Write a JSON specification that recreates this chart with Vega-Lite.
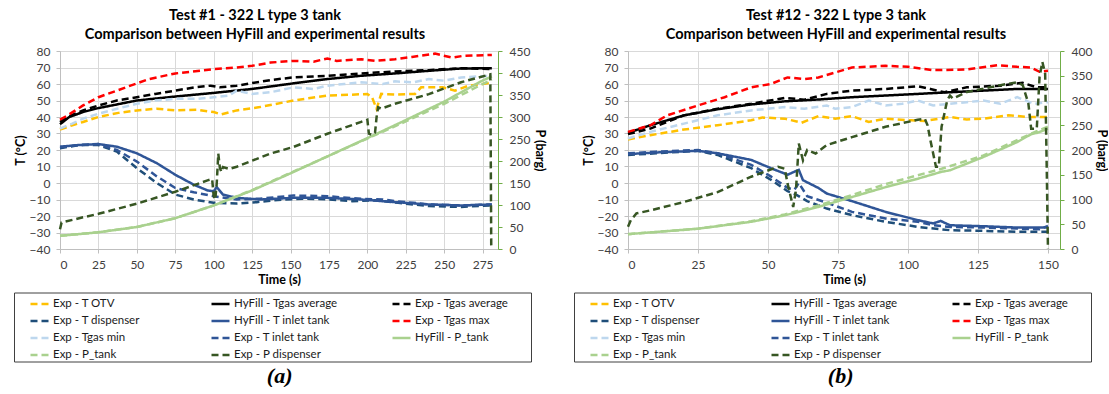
{
  "$schema": "https://vega.github.io/schema/vega-lite/v6.json",
  "padding": {"left": 13, "top": 7, "right": 0, "bottom": 0},
  "background": "white",
  "config": {
    "font": "Lato",
    "view": {"stroke": null},
    "axis": {"labelFont": "Lato", "labelFontSize": 12, "labelColor": "#404040", "titleFont": "Lato", "titleFontSize": 12.5, "titleFontWeight": "bold", "titleColor": "#000000", "gridColor": "#d9d9d9", "domainColor": "#bfbfbf", "tickColor": "#bfbfbf", "tickSize": 4, "labelPadding": 6},
    "title": {"font": "Lato", "fontSize": 14.5, "fontWeight": "bold", "color": "#000000", "lineHeight": 19, "offset": 3},
    "legend": {"direction": "horizontal", "columns": 3, "gridAlign": "all", "symbolType": "stroke", "symbolSize": 324, "symbolStrokeWidth": 2.5, "labelFont": "Lato", "labelFontSize": 11.5, "labelColor": "#1a1a1a", "labelOffset": 3, "symbolOffset": 14, "columnPadding": 39, "rowPadding": 1, "padding": 1, "strokeColor": "#404040", "titleOrient": "right", "titlePadding": 22, "titleFontSize": 11},
    "line": {"strokeWidth": 2.5}
  },
  "datasets": {
    "a": [
      {"s": "Exp - T OTV", "t": 0, "T": 32.4}, {"s": "Exp - T OTV", "t": 8, "T": 35}, {"s": "Exp - T OTV", "t": 15, "T": 37}, {"s": "Exp - T OTV", "t": 25, "T": 40}, {"s": "Exp - T OTV", "t": 38, "T": 42.5}, {"s": "Exp - T OTV", "t": 50, "T": 44}, {"s": "Exp - T OTV", "t": 63, "T": 45}, {"s": "Exp - T OTV", "t": 75, "T": 44}, {"s": "Exp - T OTV", "t": 89, "T": 44.4}, {"s": "Exp - T OTV", "t": 100, "T": 43}, {"s": "Exp - T OTV", "t": 105, "T": 41.6}, {"s": "Exp - T OTV", "t": 115, "T": 44}, {"s": "Exp - T OTV", "t": 130, "T": 46}, {"s": "Exp - T OTV", "t": 152, "T": 50}, {"s": "Exp - T OTV", "t": 174, "T": 53}, {"s": "Exp - T OTV", "t": 190, "T": 53.5}, {"s": "Exp - T OTV", "t": 200, "T": 54}, {"s": "Exp - T OTV", "t": 203, "T": 52}, {"s": "Exp - T OTV", "t": 206, "T": 45}, {"s": "Exp - T OTV", "t": 209, "T": 54}, {"s": "Exp - T OTV", "t": 218, "T": 53.6}, {"s": "Exp - T OTV", "t": 231, "T": 54}, {"s": "Exp - T OTV", "t": 235, "T": 58}, {"s": "Exp - T OTV", "t": 249, "T": 58}, {"s": "Exp - T OTV", "t": 257, "T": 56}, {"s": "Exp - T OTV", "t": 266, "T": 59}, {"s": "Exp - T OTV", "t": 275, "T": 60}, {"s": "Exp - T OTV", "t": 281, "T": 61},
      {"s": "HyFill - Tgas average", "t": 0, "T": 35.6}, {"s": "HyFill - Tgas average", "t": 6, "T": 40}, {"s": "HyFill - Tgas average", "t": 15, "T": 43}, {"s": "HyFill - Tgas average", "t": 25, "T": 45.4}, {"s": "HyFill - Tgas average", "t": 50, "T": 50}, {"s": "HyFill - Tgas average", "t": 75, "T": 52.4}, {"s": "HyFill - Tgas average", "t": 100, "T": 54.6}, {"s": "HyFill - Tgas average", "t": 125, "T": 57}, {"s": "HyFill - Tgas average", "t": 152, "T": 60.4}, {"s": "HyFill - Tgas average", "t": 174, "T": 63}, {"s": "HyFill - Tgas average", "t": 196, "T": 65}, {"s": "HyFill - Tgas average", "t": 218, "T": 66.4}, {"s": "HyFill - Tgas average", "t": 240, "T": 68}, {"s": "HyFill - Tgas average", "t": 261, "T": 69.4}, {"s": "HyFill - Tgas average", "t": 281, "T": 69.6},
      {"s": "Exp - Tgas average", "t": 0, "T": 37}, {"s": "Exp - Tgas average", "t": 5, "T": 40}, {"s": "Exp - Tgas average", "t": 15, "T": 44}, {"s": "Exp - Tgas average", "t": 25, "T": 47}, {"s": "Exp - Tgas average", "t": 37, "T": 50}, {"s": "Exp - Tgas average", "t": 50, "T": 52}, {"s": "Exp - Tgas average", "t": 62, "T": 54}, {"s": "Exp - Tgas average", "t": 75, "T": 56}, {"s": "Exp - Tgas average", "t": 88, "T": 58}, {"s": "Exp - Tgas average", "t": 98, "T": 59}, {"s": "Exp - Tgas average", "t": 104, "T": 58}, {"s": "Exp - Tgas average", "t": 115, "T": 59}, {"s": "Exp - Tgas average", "t": 137, "T": 62.4}, {"s": "Exp - Tgas average", "t": 152, "T": 64}, {"s": "Exp - Tgas average", "t": 174, "T": 65}, {"s": "Exp - Tgas average", "t": 196, "T": 66.4}, {"s": "Exp - Tgas average", "t": 218, "T": 67.6}, {"s": "Exp - Tgas average", "t": 240, "T": 68.4}, {"s": "Exp - Tgas average", "t": 261, "T": 69.6}, {"s": "Exp - Tgas average", "t": 281, "T": 69},
      {"s": "Exp - T dispenser", "t": 0, "T": 21}, {"s": "Exp - T dispenser", "t": 12, "T": 23}, {"s": "Exp - T dispenser", "t": 25, "T": 23}, {"s": "Exp - T dispenser", "t": 37, "T": 19}, {"s": "Exp - T dispenser", "t": 50, "T": 9}, {"s": "Exp - T dispenser", "t": 63, "T": 0}, {"s": "Exp - T dispenser", "t": 75, "T": -7}, {"s": "Exp - T dispenser", "t": 87, "T": -10}, {"s": "Exp - T dispenser", "t": 100, "T": -12}, {"s": "Exp - T dispenser", "t": 115, "T": -12.4}, {"s": "Exp - T dispenser", "t": 128, "T": -11.6}, {"s": "Exp - T dispenser", "t": 145, "T": -10}, {"s": "Exp - T dispenser", "t": 160, "T": -9.5}, {"s": "Exp - T dispenser", "t": 175, "T": -10}, {"s": "Exp - T dispenser", "t": 190, "T": -11}, {"s": "Exp - T dispenser", "t": 205, "T": -10.5}, {"s": "Exp - T dispenser", "t": 220, "T": -12}, {"s": "Exp - T dispenser", "t": 240, "T": -14}, {"s": "Exp - T dispenser", "t": 261, "T": -14.5}, {"s": "Exp - T dispenser", "t": 281, "T": -13.5},
      {"s": "HyFill - T inlet tank", "t": 0, "T": 22}, {"s": "HyFill - T inlet tank", "t": 12, "T": 23}, {"s": "HyFill - T inlet tank", "t": 25, "T": 23.6}, {"s": "HyFill - T inlet tank", "t": 37, "T": 22}, {"s": "HyFill - T inlet tank", "t": 50, "T": 18}, {"s": "HyFill - T inlet tank", "t": 63, "T": 12}, {"s": "HyFill - T inlet tank", "t": 75, "T": 5}, {"s": "HyFill - T inlet tank", "t": 87, "T": -1}, {"s": "HyFill - T inlet tank", "t": 96, "T": -4.5}, {"s": "HyFill - T inlet tank", "t": 100, "T": -5}, {"s": "HyFill - T inlet tank", "t": 102, "T": -2.5}, {"s": "HyFill - T inlet tank", "t": 106, "T": -7}, {"s": "HyFill - T inlet tank", "t": 115, "T": -9}, {"s": "HyFill - T inlet tank", "t": 130, "T": -10}, {"s": "HyFill - T inlet tank", "t": 152, "T": -9}, {"s": "HyFill - T inlet tank", "t": 174, "T": -9}, {"s": "HyFill - T inlet tank", "t": 196, "T": -10}, {"s": "HyFill - T inlet tank", "t": 218, "T": -11.6}, {"s": "HyFill - T inlet tank", "t": 240, "T": -13}, {"s": "HyFill - T inlet tank", "t": 261, "T": -13.6}, {"s": "HyFill - T inlet tank", "t": 281, "T": -13},
      {"s": "Exp - Tgas max", "t": 0, "T": 38.4}, {"s": "Exp - Tgas max", "t": 5, "T": 41}, {"s": "Exp - Tgas max", "t": 15, "T": 47}, {"s": "Exp - Tgas max", "t": 25, "T": 52}, {"s": "Exp - Tgas max", "t": 37, "T": 56}, {"s": "Exp - Tgas max", "t": 50, "T": 60.4}, {"s": "Exp - Tgas max", "t": 58, "T": 63}, {"s": "Exp - Tgas max", "t": 75, "T": 66.4}, {"s": "Exp - Tgas max", "t": 100, "T": 69}, {"s": "Exp - Tgas max", "t": 115, "T": 70}, {"s": "Exp - Tgas max", "t": 125, "T": 71}, {"s": "Exp - Tgas max", "t": 137, "T": 73}, {"s": "Exp - Tgas max", "t": 152, "T": 74}, {"s": "Exp - Tgas max", "t": 165, "T": 73.5}, {"s": "Exp - Tgas max", "t": 174, "T": 75.5}, {"s": "Exp - Tgas max", "t": 180, "T": 74}, {"s": "Exp - Tgas max", "t": 196, "T": 75}, {"s": "Exp - Tgas max", "t": 205, "T": 74}, {"s": "Exp - Tgas max", "t": 218, "T": 75}, {"s": "Exp - Tgas max", "t": 229, "T": 76.4}, {"s": "Exp - Tgas max", "t": 244, "T": 78.4}, {"s": "Exp - Tgas max", "t": 255, "T": 76}, {"s": "Exp - Tgas max", "t": 262, "T": 77}, {"s": "Exp - Tgas max", "t": 281, "T": 77.6},
      {"s": "Exp - Tgas min", "t": 0, "T": 33}, {"s": "Exp - Tgas min", "t": 8, "T": 36}, {"s": "Exp - Tgas min", "t": 15, "T": 39}, {"s": "Exp - Tgas min", "t": 25, "T": 42}, {"s": "Exp - Tgas min", "t": 37, "T": 45}, {"s": "Exp - Tgas min", "t": 50, "T": 48}, {"s": "Exp - Tgas min", "t": 62, "T": 50}, {"s": "Exp - Tgas min", "t": 75, "T": 51}, {"s": "Exp - Tgas min", "t": 90, "T": 51}, {"s": "Exp - Tgas min", "t": 100, "T": 52}, {"s": "Exp - Tgas min", "t": 110, "T": 53}, {"s": "Exp - Tgas min", "t": 115, "T": 56}, {"s": "Exp - Tgas min", "t": 125, "T": 54}, {"s": "Exp - Tgas min", "t": 137, "T": 55}, {"s": "Exp - Tgas min", "t": 152, "T": 58}, {"s": "Exp - Tgas min", "t": 165, "T": 57}, {"s": "Exp - Tgas min", "t": 174, "T": 59}, {"s": "Exp - Tgas min", "t": 185, "T": 60}, {"s": "Exp - Tgas min", "t": 196, "T": 61}, {"s": "Exp - Tgas min", "t": 210, "T": 60}, {"s": "Exp - Tgas min", "t": 218, "T": 61.6}, {"s": "Exp - Tgas min", "t": 230, "T": 61}, {"s": "Exp - Tgas min", "t": 240, "T": 63}, {"s": "Exp - Tgas min", "t": 250, "T": 62}, {"s": "Exp - Tgas min", "t": 261, "T": 64}, {"s": "Exp - Tgas min", "t": 281, "T": 65},
      {"s": "Exp - T inlet tank", "t": 0, "T": 21.6}, {"s": "Exp - T inlet tank", "t": 12, "T": 23}, {"s": "Exp - T inlet tank", "t": 25, "T": 23.6}, {"s": "Exp - T inlet tank", "t": 37, "T": 20}, {"s": "Exp - T inlet tank", "t": 50, "T": 13}, {"s": "Exp - T inlet tank", "t": 63, "T": 4}, {"s": "Exp - T inlet tank", "t": 75, "T": -3}, {"s": "Exp - T inlet tank", "t": 87, "T": -5.6}, {"s": "Exp - T inlet tank", "t": 100, "T": -8}, {"s": "Exp - T inlet tank", "t": 115, "T": -10}, {"s": "Exp - T inlet tank", "t": 130, "T": -9.5}, {"s": "Exp - T inlet tank", "t": 152, "T": -7.6}, {"s": "Exp - T inlet tank", "t": 174, "T": -8}, {"s": "Exp - T inlet tank", "t": 196, "T": -9.6}, {"s": "Exp - T inlet tank", "t": 210, "T": -10}, {"s": "Exp - T inlet tank", "t": 218, "T": -11}, {"s": "Exp - T inlet tank", "t": 230, "T": -12}, {"s": "Exp - T inlet tank", "t": 240, "T": -13}, {"s": "Exp - T inlet tank", "t": 261, "T": -13.6}, {"s": "Exp - T inlet tank", "t": 281, "T": -13},
      {"s": "HyFill - P_tank", "t": 0, "P": 30}, {"s": "HyFill - P_tank", "t": 25, "P": 38}, {"s": "HyFill - P_tank", "t": 50, "P": 50}, {"s": "HyFill - P_tank", "t": 75, "P": 70}, {"s": "HyFill - P_tank", "t": 100, "P": 99}, {"s": "HyFill - P_tank", "t": 125, "P": 133}, {"s": "HyFill - P_tank", "t": 150, "P": 172}, {"s": "HyFill - P_tank", "t": 175, "P": 212}, {"s": "HyFill - P_tank", "t": 200, "P": 252}, {"s": "HyFill - P_tank", "t": 225, "P": 293}, {"s": "HyFill - P_tank", "t": 250, "P": 335}, {"s": "HyFill - P_tank", "t": 275, "P": 383}, {"s": "HyFill - P_tank", "t": 281, "P": 392},
      {"s": "Exp - P_tank", "t": 0, "P": 30}, {"s": "Exp - P_tank", "t": 25, "P": 38}, {"s": "Exp - P_tank", "t": 50, "P": 50}, {"s": "Exp - P_tank", "t": 75, "P": 70}, {"s": "Exp - P_tank", "t": 100, "P": 99}, {"s": "Exp - P_tank", "t": 125, "P": 134}, {"s": "Exp - P_tank", "t": 150, "P": 173}, {"s": "Exp - P_tank", "t": 175, "P": 212}, {"s": "Exp - P_tank", "t": 200, "P": 251}, {"s": "Exp - P_tank", "t": 225, "P": 290}, {"s": "Exp - P_tank", "t": 250, "P": 330}, {"s": "Exp - P_tank", "t": 275, "P": 375}, {"s": "Exp - P_tank", "t": 281, "P": 385},
      {"s": "Exp - P dispenser", "t": 0, "P": 45}, {"s": "Exp - P dispenser", "t": 1, "P": 60}, {"s": "Exp - P dispenser", "t": 3, "P": 62}, {"s": "Exp - P dispenser", "t": 15, "P": 72}, {"s": "Exp - P dispenser", "t": 25, "P": 80}, {"s": "Exp - P dispenser", "t": 50, "P": 103}, {"s": "Exp - P dispenser", "t": 75, "P": 130}, {"s": "Exp - P dispenser", "t": 96, "P": 156}, {"s": "Exp - P dispenser", "t": 99, "P": 159}, {"s": "Exp - P dispenser", "t": 100, "P": 120}, {"s": "Exp - P dispenser", "t": 101, "P": 112}, {"s": "Exp - P dispenser", "t": 102, "P": 150}, {"s": "Exp - P dispenser", "t": 103, "P": 217}, {"s": "Exp - P dispenser", "t": 104, "P": 185}, {"s": "Exp - P dispenser", "t": 105, "P": 175}, {"s": "Exp - P dispenser", "t": 106, "P": 186}, {"s": "Exp - P dispenser", "t": 110, "P": 182}, {"s": "Exp - P dispenser", "t": 115, "P": 187}, {"s": "Exp - P dispenser", "t": 137, "P": 217}, {"s": "Exp - P dispenser", "t": 152, "P": 232}, {"s": "Exp - P dispenser", "t": 174, "P": 262}, {"s": "Exp - P dispenser", "t": 196, "P": 289}, {"s": "Exp - P dispenser", "t": 200, "P": 294}, {"s": "Exp - P dispenser", "t": 201, "P": 262}, {"s": "Exp - P dispenser", "t": 203, "P": 259}, {"s": "Exp - P dispenser", "t": 205, "P": 265}, {"s": "Exp - P dispenser", "t": 206, "P": 300}, {"s": "Exp - P dispenser", "t": 207, "P": 322}, {"s": "Exp - P dispenser", "t": 209, "P": 319}, {"s": "Exp - P dispenser", "t": 218, "P": 330}, {"s": "Exp - P dispenser", "t": 240, "P": 352}, {"s": "Exp - P dispenser", "t": 261, "P": 379}, {"s": "Exp - P dispenser", "t": 280, "P": 397}, {"s": "Exp - P dispenser", "t": 280.6, "P": 5}, {"s": "Exp - P dispenser", "t": 281, "P": 0}
    ],
    "b": [
      {"s": "Exp - T OTV", "t": 0, "T": 26.4}, {"s": "Exp - T OTV", "t": 8, "T": 29}, {"s": "Exp - T OTV", "t": 20, "T": 32.4}, {"s": "Exp - T OTV", "t": 32, "T": 35}, {"s": "Exp - T OTV", "t": 44, "T": 38}, {"s": "Exp - T OTV", "t": 48, "T": 39.7}, {"s": "Exp - T OTV", "t": 56, "T": 39}, {"s": "Exp - T OTV", "t": 62, "T": 36.5}, {"s": "Exp - T OTV", "t": 68, "T": 40.5}, {"s": "Exp - T OTV", "t": 74, "T": 39}, {"s": "Exp - T OTV", "t": 80, "T": 40.5}, {"s": "Exp - T OTV", "t": 86, "T": 37}, {"s": "Exp - T OTV", "t": 92, "T": 39}, {"s": "Exp - T OTV", "t": 101, "T": 38}, {"s": "Exp - T OTV", "t": 106, "T": 37.6}, {"s": "Exp - T OTV", "t": 115, "T": 40}, {"s": "Exp - T OTV", "t": 121, "T": 38.5}, {"s": "Exp - T OTV", "t": 127, "T": 39}, {"s": "Exp - T OTV", "t": 136, "T": 41}, {"s": "Exp - T OTV", "t": 143, "T": 40}, {"s": "Exp - T OTV", "t": 150, "T": 40},
      {"s": "HyFill - Tgas average", "t": 0, "T": 30.4}, {"s": "HyFill - Tgas average", "t": 8, "T": 35}, {"s": "HyFill - Tgas average", "t": 20, "T": 41}, {"s": "HyFill - Tgas average", "t": 32, "T": 44.7}, {"s": "HyFill - Tgas average", "t": 44, "T": 47.6}, {"s": "HyFill - Tgas average", "t": 56, "T": 49.5}, {"s": "HyFill - Tgas average", "t": 68, "T": 50.6}, {"s": "HyFill - Tgas average", "t": 80, "T": 52}, {"s": "HyFill - Tgas average", "t": 92, "T": 53}, {"s": "HyFill - Tgas average", "t": 103.5, "T": 54}, {"s": "HyFill - Tgas average", "t": 115, "T": 55}, {"s": "HyFill - Tgas average", "t": 127, "T": 56}, {"s": "HyFill - Tgas average", "t": 139, "T": 57}, {"s": "HyFill - Tgas average", "t": 150, "T": 57},
      {"s": "Exp - Tgas average", "t": 0, "T": 29.6}, {"s": "Exp - Tgas average", "t": 8, "T": 33}, {"s": "Exp - Tgas average", "t": 20, "T": 41}, {"s": "Exp - Tgas average", "t": 32, "T": 45}, {"s": "Exp - Tgas average", "t": 44, "T": 48}, {"s": "Exp - Tgas average", "t": 56, "T": 51.6}, {"s": "Exp - Tgas average", "t": 63, "T": 50.5}, {"s": "Exp - Tgas average", "t": 71, "T": 54}, {"s": "Exp - Tgas average", "t": 80, "T": 56}, {"s": "Exp - Tgas average", "t": 92, "T": 57}, {"s": "Exp - Tgas average", "t": 103.5, "T": 58.6}, {"s": "Exp - Tgas average", "t": 108, "T": 57}, {"s": "Exp - Tgas average", "t": 113, "T": 55}, {"s": "Exp - Tgas average", "t": 121, "T": 58}, {"s": "Exp - Tgas average", "t": 133, "T": 59}, {"s": "Exp - Tgas average", "t": 141, "T": 60.7}, {"s": "Exp - Tgas average", "t": 146, "T": 58}, {"s": "Exp - Tgas average", "t": 150, "T": 58},
      {"s": "Exp - T dispenser", "t": 0, "T": 17}, {"s": "Exp - T dispenser", "t": 10, "T": 18}, {"s": "Exp - T dispenser", "t": 25, "T": 19.5}, {"s": "Exp - T dispenser", "t": 32, "T": 17}, {"s": "Exp - T dispenser", "t": 44, "T": 9}, {"s": "Exp - T dispenser", "t": 51, "T": 2}, {"s": "Exp - T dispenser", "t": 57, "T": -5}, {"s": "Exp - T dispenser", "t": 60, "T": -7}, {"s": "Exp - T dispenser", "t": 64, "T": -11}, {"s": "Exp - T dispenser", "t": 71, "T": -15.5}, {"s": "Exp - T dispenser", "t": 80, "T": -19.5}, {"s": "Exp - T dispenser", "t": 92, "T": -23.5}, {"s": "Exp - T dispenser", "t": 103.5, "T": -26.6}, {"s": "Exp - T dispenser", "t": 115, "T": -28.6}, {"s": "Exp - T dispenser", "t": 127, "T": -29}, {"s": "Exp - T dispenser", "t": 139, "T": -29.6}, {"s": "Exp - T dispenser", "t": 150, "T": -29.6},
      {"s": "HyFill - T inlet tank", "t": 0, "T": 17.5}, {"s": "HyFill - T inlet tank", "t": 10, "T": 18.5}, {"s": "HyFill - T inlet tank", "t": 25, "T": 19.5}, {"s": "HyFill - T inlet tank", "t": 32, "T": 18}, {"s": "HyFill - T inlet tank", "t": 44, "T": 14}, {"s": "HyFill - T inlet tank", "t": 51, "T": 9}, {"s": "HyFill - T inlet tank", "t": 57, "T": 5}, {"s": "HyFill - T inlet tank", "t": 61, "T": 8}, {"s": "HyFill - T inlet tank", "t": 62.5, "T": 1.7}, {"s": "HyFill - T inlet tank", "t": 68, "T": -3}, {"s": "HyFill - T inlet tank", "t": 71, "T": -6.4}, {"s": "HyFill - T inlet tank", "t": 80, "T": -11}, {"s": "HyFill - T inlet tank", "t": 92, "T": -17.5}, {"s": "HyFill - T inlet tank", "t": 103.5, "T": -22.5}, {"s": "HyFill - T inlet tank", "t": 109, "T": -24.5}, {"s": "HyFill - T inlet tank", "t": 111.7, "T": -23}, {"s": "HyFill - T inlet tank", "t": 115, "T": -25.6}, {"s": "HyFill - T inlet tank", "t": 127, "T": -26.2}, {"s": "HyFill - T inlet tank", "t": 139, "T": -27}, {"s": "HyFill - T inlet tank", "t": 150, "T": -27},
      {"s": "Exp - Tgas max", "t": 0, "T": 31}, {"s": "Exp - Tgas max", "t": 8, "T": 35}, {"s": "Exp - Tgas max", "t": 14, "T": 41}, {"s": "Exp - Tgas max", "t": 25, "T": 47}, {"s": "Exp - Tgas max", "t": 34.5, "T": 52}, {"s": "Exp - Tgas max", "t": 44, "T": 58}, {"s": "Exp - Tgas max", "t": 51, "T": 60}, {"s": "Exp - Tgas max", "t": 57, "T": 64}, {"s": "Exp - Tgas max", "t": 63, "T": 63}, {"s": "Exp - Tgas max", "t": 68, "T": 64}, {"s": "Exp - Tgas max", "t": 80, "T": 70}, {"s": "Exp - Tgas max", "t": 92, "T": 71}, {"s": "Exp - Tgas max", "t": 100, "T": 70.4}, {"s": "Exp - Tgas max", "t": 109, "T": 68.4}, {"s": "Exp - Tgas max", "t": 121, "T": 68.8}, {"s": "Exp - Tgas max", "t": 132, "T": 71.4}, {"s": "Exp - Tgas max", "t": 139, "T": 70.4}, {"s": "Exp - Tgas max", "t": 144, "T": 70}, {"s": "Exp - Tgas max", "t": 147, "T": 67.4}, {"s": "Exp - Tgas max", "t": 150, "T": 68},
      {"s": "Exp - Tgas min", "t": 0, "T": 27}, {"s": "Exp - Tgas min", "t": 8, "T": 31}, {"s": "Exp - Tgas min", "t": 20, "T": 36}, {"s": "Exp - Tgas min", "t": 32, "T": 41}, {"s": "Exp - Tgas min", "t": 44, "T": 44}, {"s": "Exp - Tgas min", "t": 56, "T": 46}, {"s": "Exp - Tgas min", "t": 63, "T": 45}, {"s": "Exp - Tgas min", "t": 71, "T": 47}, {"s": "Exp - Tgas min", "t": 74, "T": 45}, {"s": "Exp - Tgas min", "t": 80, "T": 46}, {"s": "Exp - Tgas min", "t": 86, "T": 50}, {"s": "Exp - Tgas min", "t": 92, "T": 47}, {"s": "Exp - Tgas min", "t": 98, "T": 48}, {"s": "Exp - Tgas min", "t": 103.5, "T": 50}, {"s": "Exp - Tgas min", "t": 109, "T": 47}, {"s": "Exp - Tgas min", "t": 115, "T": 48}, {"s": "Exp - Tgas min", "t": 121, "T": 49}, {"s": "Exp - Tgas min", "t": 127, "T": 50}, {"s": "Exp - Tgas min", "t": 133, "T": 48}, {"s": "Exp - Tgas min", "t": 139, "T": 52}, {"s": "Exp - Tgas min", "t": 145, "T": 48}, {"s": "Exp - Tgas min", "t": 150, "T": 49},
      {"s": "Exp - T inlet tank", "t": 0, "T": 18}, {"s": "Exp - T inlet tank", "t": 10, "T": 19}, {"s": "Exp - T inlet tank", "t": 25, "T": 20}, {"s": "Exp - T inlet tank", "t": 32, "T": 18}, {"s": "Exp - T inlet tank", "t": 44, "T": 11}, {"s": "Exp - T inlet tank", "t": 51, "T": 4}, {"s": "Exp - T inlet tank", "t": 57, "T": -3}, {"s": "Exp - T inlet tank", "t": 59.5, "T": -4}, {"s": "Exp - T inlet tank", "t": 61, "T": 0}, {"s": "Exp - T inlet tank", "t": 64, "T": -8}, {"s": "Exp - T inlet tank", "t": 71, "T": -12}, {"s": "Exp - T inlet tank", "t": 80, "T": -17.5}, {"s": "Exp - T inlet tank", "t": 92, "T": -21.5}, {"s": "Exp - T inlet tank", "t": 103.5, "T": -23.5}, {"s": "Exp - T inlet tank", "t": 109, "T": -25.6}, {"s": "Exp - T inlet tank", "t": 115, "T": -26.6}, {"s": "Exp - T inlet tank", "t": 127, "T": -27}, {"s": "Exp - T inlet tank", "t": 139, "T": -27.6}, {"s": "Exp - T inlet tank", "t": 147, "T": -28}, {"s": "Exp - T inlet tank", "t": 150, "T": -26},
      {"s": "HyFill - P_tank", "t": 0, "P": 30}, {"s": "HyFill - P_tank", "t": 25, "P": 41}, {"s": "HyFill - P_tank", "t": 44, "P": 55}, {"s": "HyFill - P_tank", "t": 56, "P": 68}, {"s": "HyFill - P_tank", "t": 68, "P": 85}, {"s": "HyFill - P_tank", "t": 80, "P": 105}, {"s": "HyFill - P_tank", "t": 92, "P": 125}, {"s": "HyFill - P_tank", "t": 103.5, "P": 142}, {"s": "HyFill - P_tank", "t": 112, "P": 156}, {"s": "HyFill - P_tank", "t": 115, "P": 159}, {"s": "HyFill - P_tank", "t": 127, "P": 186}, {"s": "HyFill - P_tank", "t": 139, "P": 216}, {"s": "HyFill - P_tank", "t": 144, "P": 232}, {"s": "HyFill - P_tank", "t": 146.4, "P": 235}, {"s": "HyFill - P_tank", "t": 150, "P": 243},
      {"s": "Exp - P_tank", "t": 0, "P": 30}, {"s": "Exp - P_tank", "t": 25, "P": 41}, {"s": "Exp - P_tank", "t": 44, "P": 56}, {"s": "Exp - P_tank", "t": 56, "P": 70}, {"s": "Exp - P_tank", "t": 68, "P": 88}, {"s": "Exp - P_tank", "t": 80, "P": 109}, {"s": "Exp - P_tank", "t": 92, "P": 131}, {"s": "Exp - P_tank", "t": 103.5, "P": 149}, {"s": "Exp - P_tank", "t": 112, "P": 162}, {"s": "Exp - P_tank", "t": 127, "P": 189}, {"s": "Exp - P_tank", "t": 139, "P": 220}, {"s": "Exp - P_tank", "t": 146, "P": 238}, {"s": "Exp - P_tank", "t": 150, "P": 247},
      {"s": "Exp - P dispenser", "t": 0, "P": 45}, {"s": "Exp - P dispenser", "t": 1, "P": 58}, {"s": "Exp - P dispenser", "t": 3, "P": 72}, {"s": "Exp - P dispenser", "t": 8, "P": 78}, {"s": "Exp - P dispenser", "t": 20, "P": 95}, {"s": "Exp - P dispenser", "t": 32, "P": 115}, {"s": "Exp - P dispenser", "t": 44, "P": 146}, {"s": "Exp - P dispenser", "t": 53.6, "P": 166}, {"s": "Exp - P dispenser", "t": 56, "P": 162}, {"s": "Exp - P dispenser", "t": 57, "P": 132}, {"s": "Exp - P dispenser", "t": 59, "P": 85}, {"s": "Exp - P dispenser", "t": 60, "P": 119}, {"s": "Exp - P dispenser", "t": 61, "P": 213}, {"s": "Exp - P dispenser", "t": 62.5, "P": 179}, {"s": "Exp - P dispenser", "t": 64, "P": 200}, {"s": "Exp - P dispenser", "t": 67, "P": 193}, {"s": "Exp - P dispenser", "t": 71, "P": 210}, {"s": "Exp - P dispenser", "t": 80, "P": 226}, {"s": "Exp - P dispenser", "t": 92, "P": 247}, {"s": "Exp - P dispenser", "t": 103.5, "P": 261}, {"s": "Exp - P dispenser", "t": 106, "P": 263}, {"s": "Exp - P dispenser", "t": 107, "P": 250}, {"s": "Exp - P dispenser", "t": 108, "P": 220}, {"s": "Exp - P dispenser", "t": 109, "P": 193}, {"s": "Exp - P dispenser", "t": 110, "P": 166}, {"s": "Exp - P dispenser", "t": 111, "P": 166}, {"s": "Exp - P dispenser", "t": 112, "P": 247}, {"s": "Exp - P dispenser", "t": 114, "P": 300}, {"s": "Exp - P dispenser", "t": 115, "P": 310}, {"s": "Exp - P dispenser", "t": 116, "P": 304}, {"s": "Exp - P dispenser", "t": 121, "P": 317}, {"s": "Exp - P dispenser", "t": 133, "P": 331}, {"s": "Exp - P dispenser", "t": 139, "P": 337}, {"s": "Exp - P dispenser", "t": 141, "P": 331}, {"s": "Exp - P dispenser", "t": 143, "P": 294}, {"s": "Exp - P dispenser", "t": 144, "P": 243}, {"s": "Exp - P dispenser", "t": 146, "P": 243}, {"s": "Exp - P dispenser", "t": 147, "P": 348}, {"s": "Exp - P dispenser", "t": 148, "P": 378}, {"s": "Exp - P dispenser", "t": 149, "P": 354}, {"s": "Exp - P dispenser", "t": 149.6, "P": 150}, {"s": "Exp - P dispenser", "t": 150, "P": 0}
    ]
  },
  "spacing": 27,
  "resolve": {"scale": {"color": "independent", "strokeDash": "independent"}, "legend": {"color": "independent", "strokeDash": "independent"}},
  "hconcat": [
    {
      "title": {"text": "(a)", "orient": "bottom", "anchor": "middle", "font": "Liberation Serif", "fontSize": 22, "fontStyle": "italic", "fontWeight": "bold", "offset": 4},
      "resolve": {"scale": {"color": "independent", "strokeDash": "independent"}, "legend": {"color": "independent", "strokeDash": "independent"}},
      "vconcat": [
        {
          "data": {"name": "a"},
          "width": 438,
          "height": 198,
          "title": {"text": ["Test #1 - 322 L type 3 tank", "Comparison between HyFill and experimental results"], "dx": -24},
          "encoding": {
            "x": {"field": "t", "type": "quantitative", "scale": {"domain": [0, 285], "nice": false}, "axis": {"values": [0, 25, 50, 75, 100, 125, 150, 175, 200, 225, 250, 275], "title": "Time (s)", "titlePadding": 3}},
            "color": {"field": "s", "type": "nominal", "scale": {"domain": ["Exp - T OTV", "HyFill - Tgas average", "Exp - Tgas average", "Exp - T dispenser", "HyFill - T inlet tank", "Exp - Tgas max", "Exp - Tgas min", "Exp - T inlet tank", "HyFill - P_tank", "Exp - P_tank", "Exp - P dispenser"], "range": ["#FFC000", "#000000", "#000000", "#1F4E79", "#2F5597", "#FF0000", "#BDD7EE", "#2F5597", "#A9D18E", "#A9D18E", "#375623"]}, "legend": {"title": " ", "orient": "none", "legendX": -46, "legendY": 241.5}},
            "strokeDash": {"field": "s", "type": "nominal", "scale": {"domain": ["Exp - T OTV", "HyFill - Tgas average", "Exp - Tgas average", "Exp - T dispenser", "HyFill - T inlet tank", "Exp - Tgas max", "Exp - Tgas min", "Exp - T inlet tank", "HyFill - P_tank", "Exp - P_tank", "Exp - P dispenser"], "range": [[7, 4], [1, 0], [7, 4], [7, 4], [1, 0], [7, 4], [7, 4], [7, 4], [1, 0], [7, 4], [7, 4]]}, "legend": {"title": " ", "orient": "none", "legendX": -46, "legendY": 241.5}}
          },
          "layer": [
            {"transform": [{"filter": "isValid(datum.T)"}], "mark": {"type": "line"}, "encoding": {"y": {"field": "T", "type": "quantitative", "scale": {"domain": [-40, 80], "nice": false}, "axis": {"values": [-40, -30, -20, -10, 0, 10, 20, 30, 40, 50, 60, 70, 80], "title": "T (°C)", "titlePadding": 2}}}},
            {"transform": [{"filter": "isValid(datum.P)"}], "mark": {"type": "line"}, "encoding": {"y": {"field": "P", "type": "quantitative", "scale": {"domain": [0, 450], "nice": false}, "axis": {"orient": "right", "grid": false, "values": [0, 50, 100, 150, 200, 250, 300, 350, 400, 450], "title": "P (barg)", "titlePadding": 3, "labelPadding": 7, "domainColor": "#70AD47", "tickColor": "#70AD47"}}}}
          ],
          "resolve": {"scale": {"y": "independent"}}
        }
      ]
    },
    {
      "title": {"text": "(b)", "orient": "bottom", "anchor": "middle", "font": "Liberation Serif", "fontSize": 22, "fontStyle": "italic", "fontWeight": "bold", "offset": 4},
      "resolve": {"scale": {"color": "independent", "strokeDash": "independent"}, "legend": {"color": "independent", "strokeDash": "independent"}},
      "vconcat": [
        {
          "data": {"name": "b"},
          "width": 432,
          "height": 198,
          "title": {"text": ["Test #12 - 322 L type 3 tank", "Comparison between HyFill and experimental results"], "dx": -8},
          "encoding": {
            "x": {"field": "t", "type": "quantitative", "scale": {"domain": [0, 154.3], "nice": false}, "axis": {"values": [0, 25, 50, 75, 100, 125, 150], "title": "Time (s)", "titlePadding": 3}},
            "color": {"field": "s", "type": "nominal", "scale": {"domain": ["Exp - T OTV", "HyFill - Tgas average", "Exp - Tgas average", "Exp - T dispenser", "HyFill - T inlet tank", "Exp - Tgas max", "Exp - Tgas min", "Exp - T inlet tank", "HyFill - P_tank", "Exp - P_tank", "Exp - P dispenser"], "range": ["#FFC000", "#000000", "#000000", "#1F4E79", "#2F5597", "#FF0000", "#BDD7EE", "#2F5597", "#A9D18E", "#A9D18E", "#375623"]}, "legend": {"title": " ", "orient": "none", "legendX": -54, "legendY": 241.5}},
            "strokeDash": {"field": "s", "type": "nominal", "scale": {"domain": ["Exp - T OTV", "HyFill - Tgas average", "Exp - Tgas average", "Exp - T dispenser", "HyFill - T inlet tank", "Exp - Tgas max", "Exp - Tgas min", "Exp - T inlet tank", "HyFill - P_tank", "Exp - P_tank", "Exp - P dispenser"], "range": [[7, 4], [1, 0], [7, 4], [7, 4], [1, 0], [7, 4], [7, 4], [7, 4], [1, 0], [7, 4], [7, 4]]}, "legend": {"title": " ", "orient": "none", "legendX": -54, "legendY": 241.5}}
          },
          "layer": [
            {"transform": [{"filter": "isValid(datum.T)"}], "mark": {"type": "line"}, "encoding": {"y": {"field": "T", "type": "quantitative", "scale": {"domain": [-40, 80], "nice": false}, "axis": {"values": [-40, -30, -20, -10, 0, 10, 20, 30, 40, 50, 60, 70, 80], "title": "T (°C)", "titlePadding": 2}}}},
            {"transform": [{"filter": "isValid(datum.P)"}], "mark": {"type": "line"}, "encoding": {"y": {"field": "P", "type": "quantitative", "scale": {"domain": [0, 400], "nice": false}, "axis": {"orient": "right", "grid": false, "values": [0, 50, 100, 150, 200, 250, 300, 350, 400], "title": "P (barg)", "titlePadding": 3, "labelPadding": 7, "domainColor": "#70AD47", "tickColor": "#70AD47"}}}}
          ],
          "resolve": {"scale": {"y": "independent"}}
        }
      ]
    }
  ]
}
